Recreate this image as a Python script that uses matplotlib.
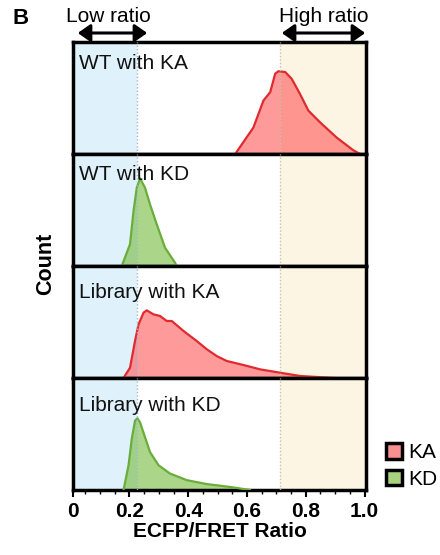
import matplotlib
matplotlib.use("Agg")
import matplotlib.pyplot as plt
from matplotlib.patches import Patch, FancyArrowPatch
import numpy as np

plt.rcParams['font.family'] = ['Liberation Sans', 'DejaVu Sans']

# ---- data (relative counts) ----
wt_ka_x = [0.560, 0.622, 0.656, 0.679, 0.696, 0.707, 0.730, 0.752, 0.780, 0.809, 0.849, 0.905, 0.962, 0.985]
wt_ka_y = [0.0, 0.237, 0.477, 0.552, 0.717, 0.739, 0.732, 0.672, 0.538, 0.387, 0.282, 0.147, 0.033, 0.0]

wt_kd_x = [0.174, 0.202, 0.214, 0.225, 0.236, 0.253, 0.270, 0.293, 0.321, 0.355, 0.361]
wt_kd_y = [0.0, 0.194, 0.491, 0.699, 0.783, 0.699, 0.551, 0.372, 0.164, 0.03, 0.0]

lib_ka_x = [0.180, 0.202, 0.219, 0.231, 0.248, 0.259, 0.282, 0.304, 0.327, 0.344, 0.384, 0.429,
            0.463, 0.497, 0.531, 0.588, 0.645, 0.713, 0.781, 0.894]
lib_ka_y = [0.0, 0.092, 0.330, 0.479, 0.583, 0.604, 0.568, 0.554, 0.509, 0.509, 0.420, 0.330,
            0.257, 0.196, 0.152, 0.116, 0.077, 0.047, 0.018, 0.0]

lib_kd_x = [0.180, 0.197, 0.208, 0.219, 0.227, 0.236, 0.253, 0.270, 0.299, 0.338, 0.395, 0.463, 0.543, 0.610]
lib_kd_y = [0.0, 0.221, 0.457, 0.619, 0.640, 0.605, 0.472, 0.339, 0.221, 0.147, 0.088, 0.053, 0.027, 0.0]

panel_titles = ["WT with KA", "WT with KD", "Library with KA", "Library with KD"]
panel_series = ["KA", "KD", "KA", "KD"]
panel_x = [wt_ka_x, wt_kd_x, lib_ka_x, lib_kd_x]
panel_y = [wt_ka_y, wt_kd_y, lib_ka_y, lib_kd_y]

tick_vals = [0.008, 0.2, 0.4, 0.6, 0.8, 1.0]
tick_labels = ["0", "0.2", "0.4", "0.6", "0.8", "1.0"]
low_cut = 0.226
high_cut = 0.7125
xmin, xmax = 0.008, 1.005

face = {"KA": "#ff5c5c", "KD": "#7fbf4a"}
edge = {"KA": "#e02a30", "KD": "#6aad3a"}
alpha = {"KA": 0.62, "KD": 0.65}
legend_face = {"KA": "#f99090", "KD": "#a9d27f"}

W, H = 440, 555
fig = plt.figure(figsize=(W / 100, H / 100), dpi=100)

left_px, right_px = 73, 366
top_px, bottom_px = 42, 490
ph = (bottom_px - top_px) / 4
title_off = [12, 11, 17, 18]
FS = 15

axes = []
for i in range(4):
    y_top = top_px + i * ph
    ax = fig.add_axes([left_px / W, 1 - (y_top + ph) / H, (right_px - left_px) / W, ph / H])
    axes.append(ax)
    ax.set_xlim(xmin, xmax)
    ax.set_ylim(0, 1)
    ax.axvspan(xmin, low_cut, color="#dff1fb", zorder=0, lw=0)
    ax.axvspan(high_cut, xmax, color="#fdf5e3", zorder=0, lw=0)
    s = panel_series[i]
    ax.fill_between(panel_x[i], panel_y[i], 0, facecolor=face[s], alpha=alpha[s], lw=0, zorder=2)
    ax.plot(panel_x[i], panel_y[i], color=edge[s], lw=1.6, zorder=3)
    ax.axvline(low_cut, color="#9fb8cc", ls=(0, (1, 1.5)), lw=1.0, zorder=4)
    ax.axvline(high_cut, color="#c8c0b0", ls=(0, (1, 1.5)), lw=1.0, zorder=4)
    ax.text(6 / (right_px - left_px), 1 - title_off[i] / ph, panel_titles[i],
            transform=ax.transAxes, ha="left", va="top", fontsize=FS, color="#111111", zorder=5)
    for sp in ax.spines.values():
        sp.set_linewidth(2.5)
        sp.set_color("black")
    ax.set_yticks([])
    ax.set_xticks(tick_vals)
    ax.set_xticks(np.arange(0.05, 1.0, 0.05), minor=True)
    ax.tick_params(axis="x", which="major", direction="out", length=5, width=1.5, color="black")
    ax.tick_params(axis="x", which="minor", direction="out", length=3, width=1.0, color="black")
    if i < 3:
        ax.set_xticklabels([])
    else:
        ax.set_xticklabels(tick_labels, fontsize=FS, fontweight="bold")
        ax.set_xlabel("ECFP/FRET Ratio", fontsize=FS, fontweight="bold", labelpad=1)
    if i == 0:
        ax.tick_params(axis="x", which="both", length=0)

fig.text(46 / W, 1 - 264 / H, "Count", rotation=90, fontsize=15.5, fontweight="bold",
         ha="center", va="center")

# header
fig.text(12 / W, 1 - 18 / H, "B", fontsize=16, fontweight="bold", ha="left", va="center")
fig.text(108 / W, 1 - 17 / H, "Low ratio", fontsize=FS, ha="center", va="center")
fig.text(324 / W, 1 - 17 / H, "High ratio", fontsize=FS, ha="center", va="center")
for x0, x1 in [(75, 150), (279, 368)]:
    arr = FancyArrowPatch((x0 / W, 1 - 33 / H), (x1 / W, 1 - 33 / H), transform=fig.transFigure,
                          arrowstyle="<|-|>,head_length=5,head_width=3.5", lw=2.2, color="black",
                          mutation_scale=1.5)
    fig.patches.append(arr)

# legend
handles = [Patch(facecolor=legend_face[k], edgecolor="black", lw=2.5, label=k) for k in ["KA", "KD"]]
fig.legend(handles=handles, loc="center left", bbox_to_anchor=(376 / W, 1 - 466 / H),
           frameon=False, fontsize=FS, handlelength=0.75, handleheight=0.75, handletextpad=0.3,
           labelspacing=0.35, borderpad=0)

fig.savefig("out.png", dpi=100)
